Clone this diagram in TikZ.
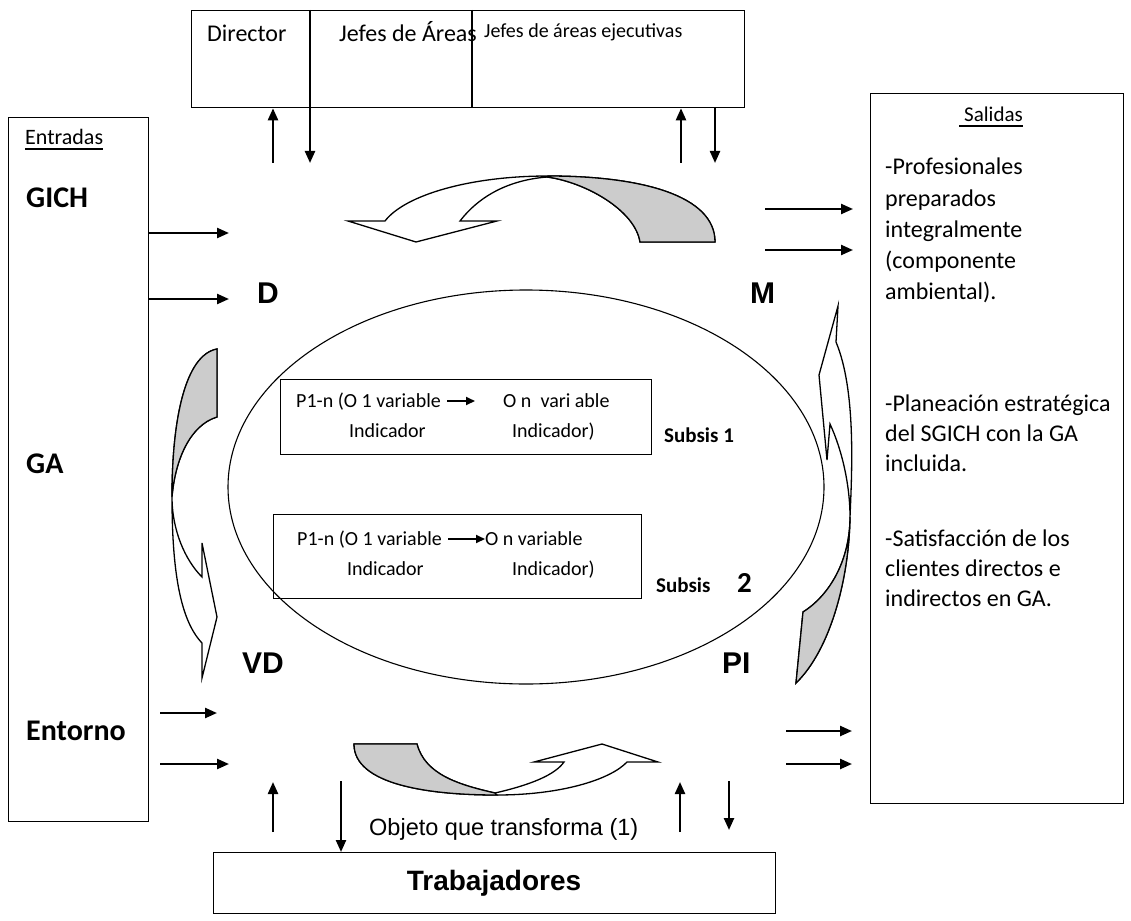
\documentclass[tikz,border=0pt]{standalone}
\usepackage{fontspec}
\setmainfont{Carlito}
\newfontfamily\arialfont{Liberation Sans}
\usetikzlibrary{arrows.meta,shapes.geometric}
\newcommand\tam[1]{\fontsize{#1}{#1}\selectfont}

\tikzset{
  caja/.style={draw,line width=1.3pt,inner sep=0pt,anchor=north west},
  txt/.style={anchor=base west,inner sep=0pt},
  flecha/.style={line width=2.3pt,-{Triangle[length=12pt,width=10pt]}},
  flechita/.style={line width=2pt,-{Triangle[length=9pt,width=8pt]}},
  curva/.style={draw,line width=1.3pt,fill=white,line join=miter},
  sombra/.style={draw,line width=1.3pt,fill=black!20,line join=miter}
}

\begin{document}
\begin{tikzpicture}[x=1pt,y=-1pt]
\useasboundingbox (0,0) rectangle (1131,920);

% sistema central
\node[draw,ellipse,line width=1.1pt,minimum width=596pt,minimum height=394pt] (sistema) at (526,487) {};

% cajas
\node[caja,minimum width=553pt,minimum height=97pt] (mando) at (191,10) {};
\draw[line width=1.3pt] (310,10) -- (310,107) (472,10) -- (472,107);
\node[caja,minimum width=140pt,minimum height=704pt] (izq) at (8,117) {};
\node[caja,minimum width=253pt,minimum height=710pt] (der) at (870,93) {};
\node[caja,minimum width=562pt,minimum height=61pt] (trabaj) at (213,852) {};
\node[caja,minimum width=371pt,minimum height=75pt] (sub1) at (280,379) {};
\node[caja,minimum width=368pt,minimum height=84pt] (sub2) at (273,514) {};

% textos de arriba
\node[txt,font=\tam{24}] (dir) at (207,42) {Director};
\node[txt,font=\tam{24}] (jefes) at (339,42) {Jefes de Áreas};
\node[txt,font=\tam{20}] (jefesej) at (484,38) {Jefes de áreas ejecutivas};

% entradas
\node[txt,font=\tam{22}] (entr) at (25,145) {Entradas};
\draw[line width=1.3pt] ([yshift=-4pt]entr.base west) -- ([yshift=-4pt]entr.base east);
\node[txt,font=\bfseries\tam{30}] (gich) at (26,207) {GICH};
\node[txt,font=\bfseries\tam{30}] (ga) at (26,473) {GA};
\node[txt,font=\bfseries\tam{30}] (entorno) at (26,740) {Entorno};

% etapas
\node[txt,font=\arialfont\bfseries\tam{30}] (D) at (257,303) {D};
\node[txt,font=\arialfont\bfseries\tam{30}] (M) at (750,303) {M};
\node[txt,font=\arialfont\bfseries\tam{30}] (VD) at (242,673) {VD};
\node[txt,font=\arialfont\bfseries\tam{30}] (PI) at (722,673) {PI};

% subsistemas
\node[txt,font=\tam{20}] (a1) at (296,407) {P1-n (O 1 variable};
\node[txt,font=\tam{20}] (b1) at (503,407) {O n~ vari able};
\node[txt,font=\tam{20}] (i1) at (349,437) {Indicador};
\node[txt,font=\tam{20}] (j1) at (512,437) {Indicador)};
\draw[flechita] ([xshift=6pt,yshift=6pt]a1.base east) -- ([xshift=-28pt,yshift=6pt]b1.base west);
\node[txt,font=\bfseries\tam{21}] (s1) at (664,442) {Subsis 1};

\node[txt,font=\tam{20}] (a2) at (297,545) {P1-n (O 1 variable};
\node[txt,font=\tam{20}] (b2) at (485,545) {O n variable};
\node[txt,font=\tam{20}] (i2) at (347,575) {Indicador};
\node[txt,font=\tam{20}] (j2) at (512,575) {Indicador)};
\draw[flechita] ([xshift=6pt,yshift=6pt]a2.base east) -- ([yshift=6pt]b2.base west);
\node[txt,font=\bfseries\tam{21}] (s2) at (656,592) {Subsis};
\node[txt,font=\bfseries\tam{29}] (s2n) at (737,592) {2};

% salidas
\node[txt,font=\tam{21}] (sal) at (964,122) {Salidas};
\draw[line width=1.3pt] (959,126) -- ([yshift=-4pt]sal.base east);
\foreach \t [count=\i] in {-Profesionales,preparados,integralmente,{(componente},{ambiental).}}
  \node[txt,font=\tam{24}] (p\i) at (885,144+31*\i) {\t};
\foreach \t [count=\i] in {-Planeación estratégica,del SGICH con la GA,incluida.}
  \node[txt,font=\tam{24}] (q\i) at (885,381+30*\i) {\t};
\foreach \t [count=\i] in {-Satisfacción de los,clientes directos e,indirectos en GA.}
  \node[txt,font=\tam{24}] (r\i) at (885,516+30*\i) {\t};

% abajo
\node[txt,font=\arialfont\tam{23.5}] (objeto) at (369,835) {Objeto que transforma (1)};
\node[anchor=base,inner sep=0pt,font=\arialfont\bfseries\tam{28}] (trab) at (494,890) {Trabajadores};

% flechas de entrada y salida
\foreach \n/\xa/\xb/\y in {g1/148/229/233,g2/148/229/299,e1/160/217/713,e2/160/229/764,
                           o1/765/853/209,o2/765/853/250,o3/786/852/731,o4/786/852/764} {
  \coordinate (\n a) at (\xa,\y);
  \coordinate (\n b) at (\xb,\y);
  \draw[flecha] (\n a) -- (\n b);
}

% flechas con la direccion y los trabajadores
\foreach \n/\x in {u1/273,u2/681} {
  \coordinate (\n) at (\x,163);
  \draw[flecha] (\n) -- (\n |- mando.south);
}
\foreach \n/\x in {d1/310,d2/715} {
  \coordinate (\n) at (\x,163);
  \draw[flecha] (\n |- mando.south) -- (\n);
}
\foreach \n/\x in {u3/273,u4/680} {
  \coordinate (\n) at (\x,832);
  \draw[flecha] (\n) -- (\x,782);
}
\coordinate (d3) at (341,781);
\draw[flecha] (d3) -- (d3 |- trabaj.north);
\coordinate (d4) at (729,781);
\draw[flecha] (d4) -- (729,830);

% flecha curva superior
\draw[curva] (715,242) .. controls (715,195) and (640,176) .. (548,176)
  .. controls (470,176) and (405,195) .. (385,221) -- (348,221) -- (416,242) -- (497,221) -- (460,221)
  .. controls (480,195) and (510,180) .. (547,177)
  .. controls (585,182) and (635,210) .. (640,242) -- cycle;
\draw[sombra] (547,177) .. controls (585,182) and (635,210) .. (640,242) -- (715,242)
  .. controls (715,195) and (640,176) .. (548,176) -- cycle;

% flecha curva inferior
\draw[curva] (354,744) .. controls (354,785) and (430,795) .. (497,795)
  .. controls (560,795) and (610,780) .. (627,762) -- (658,762) -- (602,744) -- (534,762) -- (564,762)
  .. controls (555,775) and (530,785) .. (495,793)
  .. controls (460,785) and (425,775) .. (417,744) -- cycle;
\draw[sombra] (354,744) .. controls (354,785) and (430,795) .. (497,795) -- (495,793)
  .. controls (460,785) and (425,775) .. (417,744) -- cycle;

% flecha curva izquierda
\draw[curva] (217,349) .. controls (185,355) and (172,420) .. (172,497)
  .. controls (172,570) and (180,620) .. (202,643) -- (202,678) -- (217,617) -- (202,543) -- (202,577)
  .. controls (185,560) and (172,530) .. (172,497)
  .. controls (175,460) and (190,425) .. (217,417) -- cycle;
\draw[sombra] (217,349) .. controls (185,355) and (172,420) .. (172,497)
  .. controls (175,460) and (190,425) .. (217,417) -- cycle;

% flecha curva derecha
\draw[curva] (796,683) .. controls (830,650) and (849,580) .. (850,517)
  .. controls (852,470) and (856,390) .. (836,342) -- (838,306) -- (819,375) -- (827,460) -- (830,424)
  .. controls (842,450) and (850,485) .. (850,517)
  .. controls (850,560) and (830,595) .. (803,612) -- cycle;
\draw[sombra] (796,683) .. controls (830,650) and (849,580) .. (850,517)
  .. controls (850,560) and (830,595) .. (803,612) -- cycle;
\end{tikzpicture}
\end{document}
